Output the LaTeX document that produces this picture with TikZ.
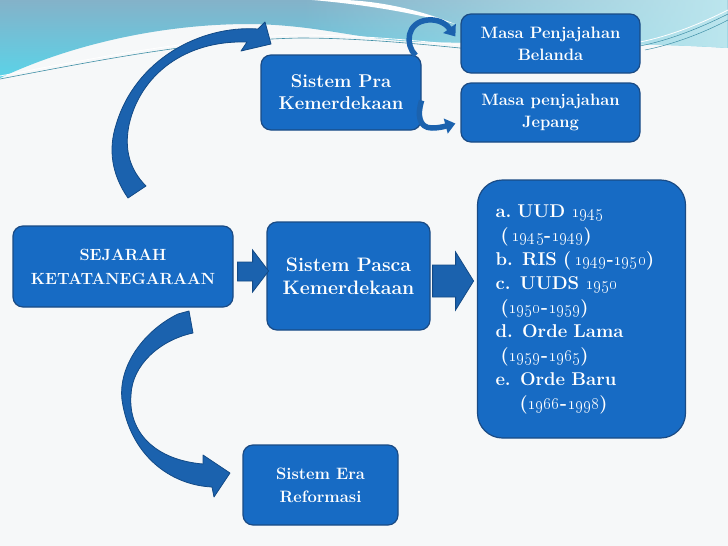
\documentclass[tikz,border=0pt]{standalone}
\usetikzlibrary{calc,arrows.meta,fadings}
\definecolor{boxblue}{HTML}{176BC4}
\definecolor{boxedge}{HTML}{1A4B85}
\definecolor{arrblue}{HTML}{1B62AE}
\definecolor{arredge}{HTML}{134A86}
\definecolor{bgcol}{HTML}{F6F8F9}
\definecolor{bandtop}{HTML}{84B2C9}
\definecolor{bandbot}{HTML}{5AD3E8}
\definecolor{bandright}{HTML}{BCE6EE}
\definecolor{thinline}{HTML}{3F8FA6}
\tikzfading[name=myfade, left color=transparent!100, right color=transparent!0]
\newcommand\osn[1]{\oldstylenums{#1}}
\begin{document}
\begin{tikzpicture}[x=1pt,y=-1pt,
  box/.style={draw=boxedge, line width=1.2pt, fill=boxblue, rounded corners=10pt,
    text=white, font=\bfseries, align=center, inner sep=2pt},
  blockarr/.style={fill=arrblue, draw=arredge, line width=0.8pt, line join=miter},
  smallarr/.style={draw=arrblue, line width=5.5pt, -{Triangle[width=15pt,length=10pt]}}]
\useasboundingbox (0,0) rectangle (728,546);
\fill[bgcol] (0,0) rectangle (728,546);
% top band
\shade[top color=bandtop, bottom color=bandbot]
  (0,0) -- (728,0) -- (728,48) .. controls (640,42) and (520,44) .. (420,42)
  .. controls (360,40) and (320,25) .. (250,24) .. controls (160,24) and (70,45) .. (0,78) -- cycle;
\fill[bandright, path fading=myfade]
  (300,0) -- (728,0) -- (728,48) .. controls (640,42) and (520,44) .. (420,42)
  .. controls (360,40) and (330,28) .. (300,26) -- cycle;
\fill[white] (312,0) .. controls (360,4) and (410,12) .. (455,24)
  .. controls (415,8) and (375,1) .. (345,0) -- cycle;
\draw[thinline, line width=0.6pt] (0,79) .. controls (100,60) and (200,40) .. (300,38)
  .. controls (360,38) and (420,44) .. (480,50);
\draw[white, line width=0.8pt] (0,76) .. controls (100,57) and (200,37) .. (300,35)
  .. controls (360,35) and (420,41) .. (480,47);
\draw[thinline, line width=0.5pt] (640,46) .. controls (670,40) and (700,28) .. (728,14);
\draw[white, line width=0.8pt] (640,42) .. controls (670,36) and (700,24) .. (728,10);
\draw[thinline, line width=0.5pt] (645,50) .. controls (675,44) and (705,32) .. (728,20);

% boxes
\node[box, minimum width=160pt, minimum height=75pt, font=\bfseries\fontsize{18.5}{22}\selectfont] (pra) at (341,92.5) {Sistem Pra\\Kemerdekaan};
\node[box, minimum width=179pt, minimum height=59pt, font=\bfseries\fontsize{16.5}{22}\selectfont] (bel) at (550.5,43.5) {Masa Penjajahan\\Belanda};
\node[box, minimum width=179pt, minimum height=59pt, font=\bfseries\fontsize{16.5}{22}\selectfont] (jep) at (550.5,112.5) {Masa penjajahan\\Jepang};
\node[box, minimum width=220pt, minimum height=81pt, font=\bfseries\fontsize{16.2}{24}\selectfont] (sej) at (123,266.5) {SEJARAH\\KETATANEGARAAN};
\node[box, minimum width=163pt, minimum height=108pt, font=\bfseries\fontsize{19.5}{23}\selectfont] (pasca) at (348.5,276) {Sistem Pasca\\Kemerdekaan};
\node[box, rounded corners=25pt, text width=172pt, inner xsep=18pt, minimum height=258pt, align=left,
  font=\bfseries\fontsize{18.5}{24}\selectfont] (list) at (581.5,309) {%
a.\hspace*{6pt}UUD \osn{1945}\\
\hspace*{5pt}(\,\osn{1945}-\osn{1949})\\
b. RIS (\,\osn{1949}-\osn{1950})\\
c. UUDS \osn{1950}\\
\hspace*{5pt}(\osn{1950}-\osn{1959})\\
d. Orde Lama\\
\hspace*{5pt}(\osn{1959}-\osn{1965})\\
e. Orde Baru\\
\hspace*{24pt}(\osn{1966}-\osn{1998})};
\node[box, minimum width=155pt, minimum height=80pt, font=\bfseries\fontsize{16.5}{23}\selectfont] (era) at (320.5,485) {Sistem Era\\Reformasi};

% straight block arrows
\draw[blockarr] ($(sej.east)+(4,-4.5)$) -- ++(15,0) -- ++(0,-12) -- ++(16,21) -- ++(-16,21) -- ++(0,-11) -- ++(-15,0) -- cycle;
\draw[blockarr] ($(pasca.east)+(2,-11)$) -- ++(23,0) -- ++(0,-13) -- ++(18,29) -- ++(-18,29) -- ++(0,-13) -- ++(-23,0) -- cycle;

% curved block arrow: SEJARAH -> Pra
\coordinate (uptail) at (128,198);
\draw[blockarr, line join=round] (uptail) .. controls (112,175) and (108,150) .. (116,125)
  .. controls (135,60) and (200,25) .. (258,29) -- (265,22) -- (271,44) -- (241,51) -- (247,42)
  .. controls (185,40) and (140,75) .. (129,125) .. controls (124,150) and (130,170) .. (146,186) -- cycle;

% curved block arrow: SEJARAH -> Era
\coordinate (lowtail) at (178,314);
\draw[blockarr, line join=round] (lowtail) -- (189,311) -- (193,333)
  .. controls (160,340) and (132,365) .. (131,395) .. controls (128,432) and (155,460) .. (203,464)
  -- (203,455) -- (230,473) -- (214,497) -- (212,487)
  .. controls (170,485) and (130,455) .. (122,400) .. controls (118,365) and (145,330) .. (lowtail) -- cycle;

% small curved arrows
\draw[smallarr] ($(pra.north east)+(-6,1)$) .. controls (405,45) and (406,22) .. (428,20)
  .. controls (440,19) and (447,25) .. ($(bel.west)+(-5,-7)$);
\draw[smallarr] ($(pra.east)+(0,8)$) .. controls (417,115) and (419,128) .. (432,128)
  .. controls (440,128) and (446,126) .. ($(jep.west)+(-5,11)$);
\end{tikzpicture}
\end{document}
